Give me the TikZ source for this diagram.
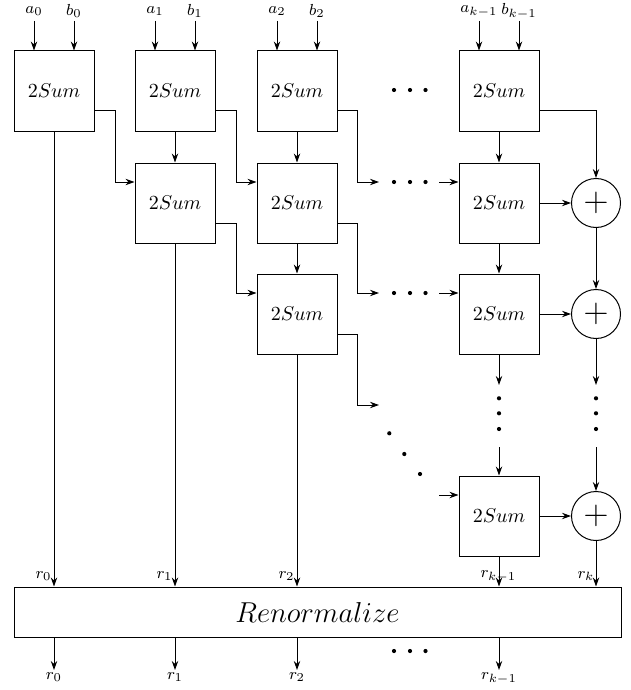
\documentclass[tikz,border=0pt]{standalone}
\usetikzlibrary{arrows.meta,calc}
\begin{document}
\begin{tikzpicture}[x=0.5pt,y=-0.5pt,line width=0.5pt,
  sumbox/.style={draw,minimum width=40pt,minimum height=40pt,inner sep=0pt,font=\normalsize},
  addnode/.style={draw,circle,minimum size=24.5pt,inner sep=0pt},
  arr/.style={-{Stealth[length=4.5pt,width=3.2pt]}},
  lbl/.style={font=\footnotesize,inner sep=1pt},
  dotm/.style={fill,circle,inner sep=0pt,minimum size=2.1pt}]
\useasboundingbox (0,0) rectangle (631,690);

% 2Sum boxes
\node[sumbox] (b00) at (54,91) {$2Sum$};
\node[sumbox] (b10) at (175,91) {$2Sum$};
\node[sumbox] (b11) at (175,203) {$2Sum$};
\node[sumbox] (b20) at (297,91) {$2Sum$};
\node[sumbox] (b21) at (297,203) {$2Sum$};
\node[sumbox] (b22) at (297,314) {$2Sum$};
\node[sumbox] (bk0) at (499,91) {$2Sum$};
\node[sumbox] (bk1) at (499,203) {$2Sum$};
\node[sumbox] (bk2) at (499,314) {$2Sum$};
\node[sumbox] (bk3) at (499,516) {$2Sum$};

% adders
\node[addnode] (p1) at (596,203) {\LARGE$+$};
\node[addnode] (p2) at (596,314) {\LARGE$+$};
\node[addnode] (p3) at (596,516) {\LARGE$+$};

% renormalize
\node[draw,minimum width=303.5pt,minimum height=25pt,inner sep=0pt,font=\Large] (R) at (317.5,612) {$Renormalize$};

% inputs
\coordinate (ia0) at (34,21);  \coordinate (ib0) at (74,21);
\coordinate (ia1) at (155,21); \coordinate (ib1) at (195,21);
\coordinate (ia2) at (277,21); \coordinate (ib2) at (317,21);
\coordinate (iak) at (479,21); \coordinate (ibk) at (519,21);
\node[lbl] at (34,11) {$a_0$};  \node[lbl] at (74,11) {$b_0$};
\node[lbl] at (155,11) {$a_1$}; \node[lbl] at (195,11) {$b_1$};
\node[lbl] at (277,11) {$a_2$}; \node[lbl] at (317,11) {$b_2$};
\node[lbl] at (479,11) {$a_{k-1}$}; \node[lbl] at (519,11) {$b_{k-1}$};
\draw[arr] (ia0) -- (ia0 |- b00.north);
\draw[arr] (ib0) -- (ib0 |- b00.north);
\draw[arr] (ia1) -- (ia1 |- b10.north);
\draw[arr] (ib1) -- (ib1 |- b10.north);
\draw[arr] (ia2) -- (ia2 |- b20.north);
\draw[arr] (ib2) -- (ib2 |- b20.north);
\draw[arr] (iak) -- (iak |- bk0.north);
\draw[arr] (ibk) -- (ibk |- bk0.north);

% top row dots
\node[dotm] at (394,90) {}; \node[dotm] at (410,90) {}; \node[dotm] at (425.5,90) {};

% vertical links
\draw[arr] (b10.south) -- (b11.north);
\draw[arr] (b20.south) -- (b21.north);
\draw[arr] (b21.south) -- (b22.north);
\draw[arr] (bk0.south) -- (bk1.north);
\draw[arr] (bk1.south) -- (bk2.north);

% diagonal links
\draw[arr] ($(b00.east)+(0,20)$) -- ++(21,0) |- ($(b11.west)+(0,-21)$);
\draw[arr] ($(b10.east)+(0,20)$) -- ++(21,0) |- ($(b21.west)+(0,-21)$);
\draw[arr] ($(b11.east)+(0,20)$) -- ++(21,0) |- ($(b22.west)+(0,-21)$);

% links towards the dots
\coordinate (d1s) at (379,182); \coordinate (d1e) at (439,182);
\coordinate (d2s) at (379,293); \coordinate (d2e) at (439,293);
\coordinate (d3s) at (379,405); \coordinate (d3e) at (439,495);
\draw[arr] ($(b20.east)+(0,20)$) -- ++(20,0) |- (d1s);
\draw[arr] ($(b21.east)+(0,20)$) -- ++(20,0) |- (d2s);
\draw[arr] ($(b22.east)+(0,20)$) -- ++(20,0) |- (d3s);
\node[dotm] at (394,182) {}; \node[dotm] at (410,182) {}; \node[dotm] at (425.5,182) {};
\node[dotm] at (394,293) {}; \node[dotm] at (410,293) {}; \node[dotm] at (425.5,293) {};
\node[dotm] at (389.3,433.3) {}; \node[dotm] at (404.3,454) {}; \node[dotm] at (420,474) {};
\draw[arr] (d1e) -- (d1e -| bk1.west);
\draw[arr] (d2e) -- (d2e -| bk2.west);
\draw[arr] (d3e) -- (d3e -| bk3.west);

% adder chain
\draw[arr] ($(bk0.east)+(0,20)$) -| (p1.north);
\draw[arr] (bk1.east) -- (p1.west);
\draw[arr] (p1.south) -- (p2.north);
\draw[arr] (bk2.east) -- (p2.west);
\draw[arr] (bk3.east) -- (p3.west);

% vertical dots
\coordinate (vk1) at (499,385); \coordinate (vk2) at (499,447);
\coordinate (vp1) at (596,385); \coordinate (vp2) at (596,447);
\draw[arr] (bk2.south) -- (vk1);
\draw[arr] (vk2) -- (bk3.north);
\draw[arr] (p2.south) -- (vp1);
\draw[arr] (vp2) -- (p3.north);
\node[dotm] at (499,398.3) {}; \node[dotm] at (499,413.3) {}; \node[dotm] at (499,429) {};
\node[dotm] at (596,398.3) {}; \node[dotm] at (596,413.3) {}; \node[dotm] at (596,429) {};

% into renormalize
\draw[arr] (b00.south) -- (b00.south |- R.north);
\draw[arr] (b11.south) -- (b11.south |- R.north);
\draw[arr] (b22.south) -- (b22.south |- R.north);
\draw[arr] (bk3.south) -- (bk3.south |- R.north);
\draw[arr] (p3.south) -- (p3.south |- R.north);
\node[lbl,anchor=west] at (33,576) {$r_0$};
\node[lbl,anchor=west] at (154,576) {$r_1$};
\node[lbl,anchor=west] at (276,576) {$r_2$};
\node[lbl,anchor=west] at (478,576) {$r_{k-1}$};
\node[lbl,anchor=west] at (575,576) {$r_k$};

% outputs
\coordinate (o0) at (54,670);
\coordinate (o1) at (175,670);
\coordinate (o2) at (297,670);
\coordinate (ok) at (499,670);
\draw[arr] (R.south -| o0) -- (o0);
\draw[arr] (R.south -| o1) -- (o1);
\draw[arr] (R.south -| o2) -- (o2);
\draw[arr] (R.south -| ok) -- (ok);
\node[lbl,anchor=north] at (o0) {$r_0$};
\node[lbl,anchor=north] at (o1) {$r_1$};
\node[lbl,anchor=north] at (o2) {$r_2$};
\node[lbl,anchor=north] at (ok) {$r_{k-1}$};
\node[dotm] at (394,651) {}; \node[dotm] at (410,651) {}; \node[dotm] at (425.5,651) {};
\end{tikzpicture}
\end{document}
